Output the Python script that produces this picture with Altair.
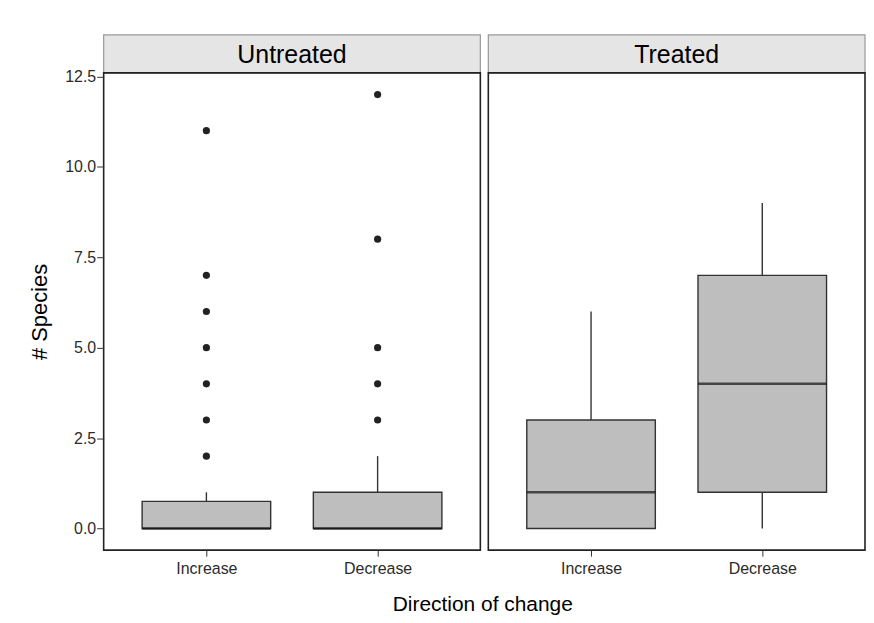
import altair as alt
import pandas as pd

# Box statistics
panels = ["Untreated", "Untreated", "Treated", "Treated"]
directions = ["Increase", "Decrease", "Increase", "Decrease"]
whisker_low = [0, 0, 0, 0]
q1 = [0, 0, 0, 1]
median = [0, 0, 1, 4]
q3 = [0.75, 1, 3, 7]
whisker_high = [1, 2, 6, 9]

# Outliers
out_panels = ["Untreated"] * 12
out_directions = ["Increase"] * 7 + ["Decrease"] * 5
out_values = [2, 3, 4, 5, 6, 7, 11, 3, 4, 5, 8, 12]

panel_order = ["Untreated", "Treated"]
dir_order = ["Increase", "Decrease"]
y_ticks = [0, 2.5, 5, 7.5, 10, 12.5]

boxes = pd.DataFrame({"panel": panels, "direction": directions, "lo": whisker_low,
                      "q1": q1, "median": median, "q3": q3, "hi": whisker_high})
outs = pd.DataFrame({"panel": out_panels, "direction": out_directions, "value": out_values})

FONT = "Liberation Sans"
W, H, SH = 378, 479, 38
BOXW = 129

y_scale = alt.Scale(domain=[-0.6, 12.6], nice=False, zero=False)
x_scale = alt.Scale(type="point", domain=dir_order, padding=0.6)


def panel(name, left):
    b = boxes[boxes.panel == name]
    o = outs[outs.panel == name]
    if left:
        yax = alt.Axis(values=y_ticks, format=".1f", title="# Species", grid=False, domain=False,
                       tickSize=7, tickColor="#333333", labelColor="#2b2b2b", labelFontSize=16,
                       labelPadding=1, titleFontSize=22, titleFontWeight="normal",
                       titleColor="black", titlePadding=13, labelFont=FONT, titleFont=FONT)
    else:
        yax = None
    xax = alt.Axis(title=None, labelAngle=0, grid=False, domain=False,
                   tickSize=6, tickColor="#333333", labelColor="#2b2b2b", labelFontSize=16,
                   labelPadding=4, labelFont=FONT)
    base = alt.Chart(b)
    x = alt.X("direction:N", scale=x_scale, axis=xax, sort=dir_order)
    whisk = base.mark_rule(color="#333333", strokeWidth=1.4).encode(
        x=x, y=alt.Y("lo:Q", scale=y_scale, axis=yax), y2="hi:Q")
    box = base.mark_bar(size=BOXW, fill="#bebebe", stroke="#333333", strokeWidth=1.4).encode(
        x=x, y=alt.Y("q1:Q", scale=y_scale), y2="q3:Q")
    med = base.mark_tick(size=BOXW, thickness=2.5, color="#111111", orient="horizontal").encode(
        x=x, y=alt.Y("median:Q", scale=y_scale))
    layers = [whisk, box, med]
    if len(o):
        pts = alt.Chart(o).mark_circle(size=52, color="#222222", opacity=1).encode(
            x=x, y=alt.Y("value:Q", scale=y_scale))
        layers.append(pts)
    plot = alt.layer(*layers).properties(
        width=W, height=H, view=alt.ViewBackground(stroke="#222222", strokeWidth=1.6))

    sdata = pd.DataFrame({"panel": [name]})
    srect = alt.Chart(sdata).mark_rect(fill="#e5e5e5", stroke="#999999", strokeWidth=1.2).encode(
        x=alt.value(0), x2=alt.value(W), y=alt.value(0), y2=alt.value(SH))
    stext = alt.Chart(sdata).mark_text(font=FONT, fontSize=25, color="black", baseline="middle").encode(
        x=alt.value(W / 2), y=alt.value(SH / 2 + 1), text="panel:N")
    strip = alt.layer(srect, stext).properties(width=W, height=SH, view=alt.ViewBackground(stroke=None))
    return alt.vconcat(strip, plot, spacing=0, bounds="flush")


chart = alt.hconcat(panel("Untreated", True), panel("Treated", False), spacing=6).properties(
    padding={"left": 20, "top": 25, "right": 0, "bottom": 0},
    title=alt.TitleParams("Direction of change", orient="bottom", anchor="middle", font=FONT,
                          fontSize=21, fontWeight="normal", color="black", dx=36, offset=17),
).configure(background="white")

chart.save("out.html", embed_options={"renderer": "svg", "actions": False})
